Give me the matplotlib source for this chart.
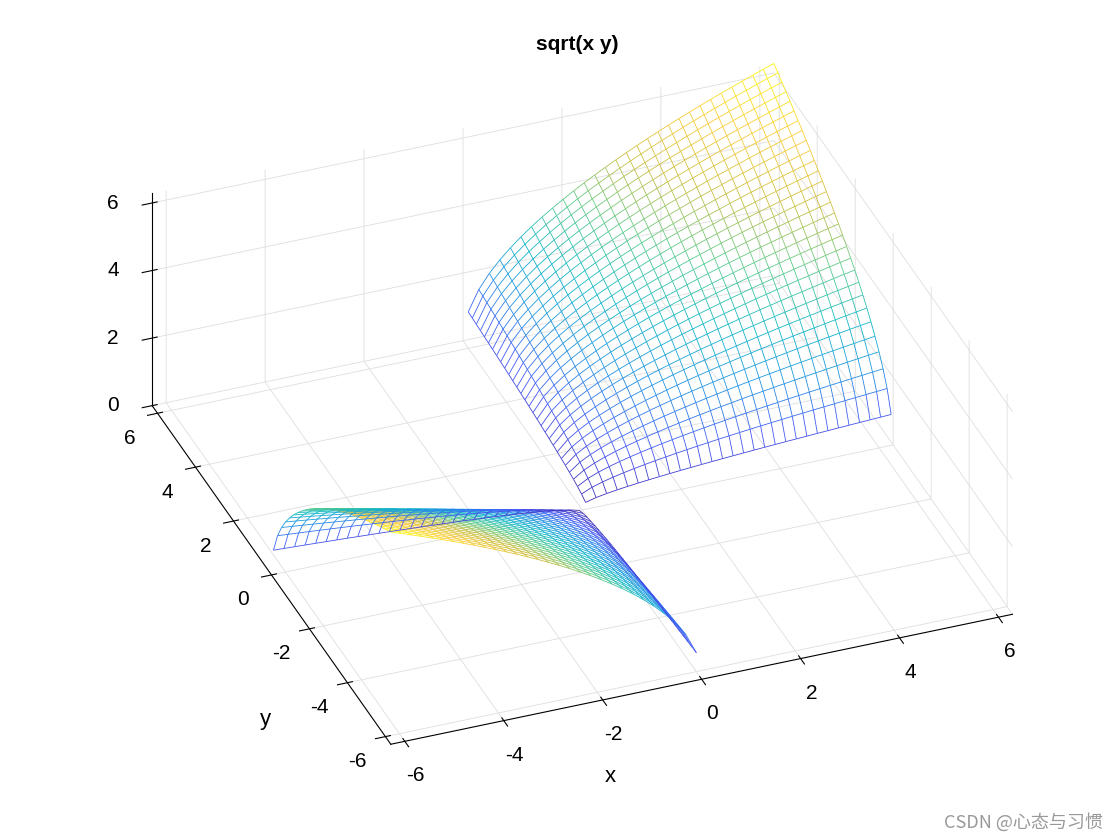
import numpy as np
import matplotlib
matplotlib.use("Agg")
import matplotlib.pyplot as plt
from matplotlib.colors import LinearSegmentedColormap
from mpl_toolkits.mplot3d.art3d import Line3DCollection

plt.rcParams['font.family'] = ['Liberation Sans', 'DejaVu Sans']
plt.rcParams['axes.unicode_minus'] = False

n = 60
xs = np.linspace(-2*np.pi, 2*np.pi, n)
ys = np.linspace(-2*np.pi, 2*np.pi, n)
X, Y = np.meshgrid(xs, ys)
P = X*Y
Z = np.where(P >= 0, np.sqrt(np.abs(P)), np.nan)

parula = LinearSegmentedColormap.from_list("parula", [
    (0.24, 0.15, 0.66), (0.27, 0.35, 0.97), (0.13, 0.57, 0.90),
    (0.07, 0.72, 0.79), (0.35, 0.80, 0.55), (0.80, 0.75, 0.25),
    (0.99, 0.80, 0.22), (0.98, 0.98, 0.05)])

segs, vals = [], []
for i in range(n):
    for j in range(n):
        for di, dj in ((0, 1), (1, 0)):
            i2, j2 = i+di, j+dj
            if i2 < n and j2 < n and np.isfinite(Z[i, j]) and np.isfinite(Z[i2, j2]):
                segs.append([(X[i, j], Y[i, j], Z[i, j]), (X[i2, j2], Y[i2, j2], Z[i2, j2])])
                vals.append((Z[i, j]+Z[i2, j2])/2)
vals = np.array(vals)
zmax = np.nanmax(Z)

fig = plt.figure(figsize=(11.2, 8.4), dpi=100)
ax = fig.add_axes([0.01, 0.016, 1.0, 0.98], projection='3d', proj_type='ortho')
lc = Line3DCollection(segs, colors=parula(vals/zmax), linewidths=0.6)
ax.add_collection3d(lc)
ax.set_xlim(-2*np.pi, 2*np.pi)
ax.set_ylim(-2*np.pi, 2*np.pi)
ax.set_zlim(0, zmax)
ax.set_xticks([-6, -4, -2, 0, 2, 4, 6])
ax.set_yticks([-6, -4, -2, 0, 2, 4, 6])
ax.set_zticks([0, 2, 4, 6])
ax.tick_params(labelsize=15, pad=6)
for a in (ax.xaxis, ax.yaxis, ax.zaxis):
    a.set_pane_color((1, 1, 1, 0))
    a._axinfo['grid']['color'] = (0.87, 0.87, 0.87, 1)
    a._axinfo['grid']['linewidth'] = 0.6
ax.view_init(elev=33, azim=-111)
ax.set_box_aspect((1, 1, 0.38), zoom=1.15)
fig.text(0.545, 0.075, 'x', ha='center', va='center', fontsize=16)
fig.text(0.237, 0.143, 'y', ha='center', va='center', fontsize=16)
fig.text(0.515, 0.94, 'sqrt(x y)', ha='center', fontweight='bold', fontsize=15)
fig.text(0.985, 0.01, 'CSDN @心态与习惯', ha='right', va='bottom', color='#999999',
         fontsize=13, family=['Noto Sans CJK SC', 'DejaVu Sans'])
fig.savefig('out.png', dpi=100)
